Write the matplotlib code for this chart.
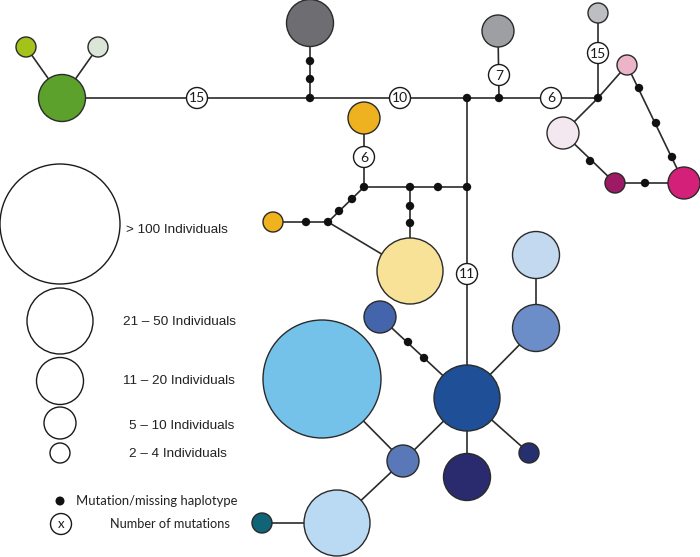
import matplotlib
matplotlib.use("Agg")
import matplotlib.pyplot as plt
from matplotlib.patches import Circle

# ---- haplotype nodes ----
hap_names = ["lg", "pg", "g", "gray1", "gray2", "gray3", "pink", "palepink", "dmag", "mag",
             "orange1", "orange2", "yellow", "lblue1", "peri", "blue2", "dblue", "sky",
             "sblue", "navy", "snavy", "lblue2", "teal"]
hap_x = [26, 98, 62, 310, 498, 598, 627, 563, 615, 684,
         364, 273, 410, 536, 536, 380, 467, 322,
         403, 467, 529, 337, 262]
hap_y = [47, 47, 98, 23, 31, 13, 65, 133, 183, 183,
         118, 222, 271, 255, 328, 317, 398, 379,
         461, 477, 453, 523, 523]
hap_r = [10, 10, 23.5, 23.5, 16, 10, 10, 16, 10, 16,
         16, 10, 33, 23.5, 23.5, 16, 33, 59,
         16, 23.5, 10, 33, 10]
hap_color = ["#a3c31a", "#dbe6d9", "#5ba12b", "#6e6e72", "#9e9fa3", "#bdbec1", "#ecb4c9",
             "#f4e8f0", "#9c1b64", "#d5207a", "#eeb11f", "#f0b31d", "#f8e297", "#c3d9f0",
             "#6b8dc8", "#4465ab", "#1f4f96", "#74c2e9", "#5a78b8", "#2a2a6e", "#27306f",
             "#b9daf2", "#0f6478"]

# ---- mutation / missing haplotype dots ----
dot_names = ["d1", "d2", "d3", "d4", "d5", "d6", "d7", "d8", "d9", "d10", "d11",
             "d12", "d13", "d14", "d15", "d16", "d17", "d18", "d19", "d20", "d21", "d22", "d23"]
dot_x = [310, 310, 310, 467, 499, 598, 639, 656, 672, 590, 645,
         364, 410, 438, 467, 410, 410, 352, 339, 328, 306, 408, 424]
dot_y = [61, 79, 98, 98, 98, 98, 88, 123, 157, 161, 183,
         187, 187, 187, 187, 206, 223, 199, 211, 222, 222, 342, 358]

# ---- number-of-mutation labels ----
lab_text = ["15", "10", "7", "6", "15", "6", "11"]
lab_x = [197, 400, 499, 551, 598, 364, 467]
lab_y = [98, 98, 75, 98, 53, 157, 274]

# ---- edges ----
edges = [("lg", "g"), ("pg", "g"), ("g", "d3"), ("gray1", "d3"), ("d3", "d4"),
         ("d4", "d6"), ("d5", "gray2"), ("d6", "gray3"), ("d6", "pink"), ("d6", "palepink"),
         ("pink", "mag"), ("palepink", "dmag"), ("dmag", "mag"), ("orange1", "d12"),
         ("d12", "d15"), ("d13", "yellow"), ("d12", "d20"), ("d20", "orange2"),
         ("d20", "yellow"), ("d4", "dblue"), ("lblue1", "peri"), ("peri", "dblue"),
         ("blue2", "dblue"), ("dblue", "navy"), ("dblue", "snavy"), ("dblue", "sblue"),
         ("sky", "sblue"), ("sblue", "lblue2"), ("lblue2", "teal")]

# ---- legend ----
leg_labels = ["> 100 Individuals", "21 – 50 Individuals", "11 – 20 Individuals",
              "5 – 10 Individuals", "2 – 4 Individuals"]
leg_r = [60, 33, 23.5, 16, 10]
leg_y = [224, 321, 381, 423, 453]
leg_ty = [230, 322, 381, 426, 454]
leg_tx = [126, 123, 123, 129, 129]

pos = {}
for n, x, y in zip(hap_names, hap_x, hap_y):
    pos[n] = (x, y)
for n, x, y in zip(dot_names, dot_x, dot_y):
    pos[n] = (x, y)

fig = plt.figure(figsize=(7.0, 5.57), dpi=100)
ax = fig.add_axes([0, 0, 1, 1])
ax.set_xlim(0, 700)
ax.set_ylim(557, 0)
ax.set_aspect("equal")
ax.axis("off")

line_col = "#2b2b2b"
for a, b in edges:
    (x1, y1), (x2, y2) = pos[a], pos[b]
    ax.plot([x1, x2], [y1, y2], color=line_col, lw=1.2, zorder=1, solid_capstyle="butt")

for x, y, r, c in zip(hap_x, hap_y, hap_r, hap_color):
    ax.add_patch(Circle((x, y), r, facecolor=c, edgecolor="#2a2a2a", lw=1.0, zorder=3))

for x, y in zip(dot_x, dot_y):
    ax.add_patch(Circle((x, y), 4.2, facecolor="#111111", edgecolor="none", zorder=4))

for t, x, y in zip(lab_text, lab_x, lab_y):
    ax.add_patch(Circle((x, y), 10.5, facecolor="white", edgecolor="#1a1a1a", lw=1.0, zorder=4))
    ax.text(x, y + 0.5, t, ha="center", va="center", fontsize=10, family="Lato",
            color="#1a1a1a", zorder=5)

# legend
for lbl, r, y, ty, tx in zip(leg_labels, leg_r, leg_y, leg_ty, leg_tx):
    ax.add_patch(Circle((60, y), r, facecolor="white", edgecolor="#1a1a1a", lw=1.0, zorder=3))
    ax.text(tx, ty, lbl, ha="left", va="center", fontsize=9.7,
            family="Liberation Sans", color="#222222", zorder=5)

ax.add_patch(Circle((60, 501), 4.5, facecolor="#111111", edgecolor="none", zorder=4))
ax.text(76, 501, "Mutation/missing haplotype", ha="left", va="center", fontsize=9.4,
        family="Lato", color="#222222", zorder=5)
ax.add_patch(Circle((61, 524), 10.5, facecolor="white", edgecolor="#1a1a1a", lw=1.0, zorder=4))
ax.text(61, 524.5, "x", ha="center", va="center", fontsize=9.5, family="Lato",
        color="#1a1a1a", zorder=6)
ax.text(110, 524, "Number of mutations", ha="left", va="center", fontsize=9.2,
        family="Lato", color="#222222", zorder=5)

fig.savefig("out.png", dpi=100, facecolor="white")
